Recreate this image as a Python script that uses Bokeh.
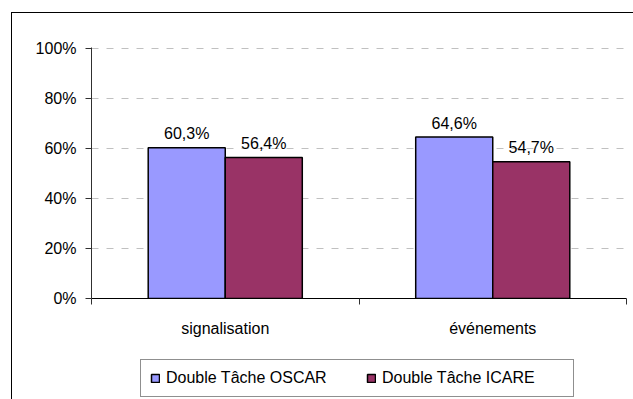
from bokeh.plotting import figure
from bokeh.layouts import column
from bokeh.models import (Range1d, FixedTicker, LinearAxis, NumeralTickFormatter,
                          ColumnDataSource, Legend, LegendItem, Grid)
from bokeh.core.properties import value
from bokeh.embed import file_html
from bokeh.resources import INLINE

categories = ["signalisation", "événements"]
series_names = ["Double Tâche OSCAR", "Double Tâche ICARE"]
oscar = [0.603, 0.646]
icare = [0.564, 0.547]
y_ticks = [0, 0.2, 0.4, 0.6, 0.8, 1.0]

FONT = "Liberation Sans"
BLUE = "#9999FF"
RED = "#993366"

bar_w = 0.288
centers = [i + 0.5 for i in range(len(categories))]

def fmt(v):
    return ("%.1f%%" % (v * 100)).replace(".", ",")

src_o = ColumnDataSource(dict(x=[c - bar_w / 2 for c in centers], top=oscar,
                              lab=[fmt(v) for v in oscar]))
src_i = ColumnDataSource(dict(x=[c + bar_w / 2 for c in centers], top=icare,
                              lab=[fmt(v) for v in icare]))

p = figure(width=621, height=330, output_backend="svg", toolbar_location=None,
           x_range=Range1d(0, len(categories)), y_range=Range1d(0, 1.004),
           x_axis_type=None, y_axis_type=None,
           min_border_left=79, min_border_right=7, min_border_top=34,
           min_border_bottom=45)
p.outline_line_color = None
p.background_fill_color = "white"
p.border_fill_color = "white"

yaxis = LinearAxis(ticker=FixedTicker(ticks=y_ticks, minor_ticks=[]),
                   formatter=NumeralTickFormatter(format="0%"))
yaxis.axis_line_color = "#303030"
yaxis.major_tick_out = 6
yaxis.major_tick_in = 0
yaxis.major_tick_line_color = "#303030"
yaxis.minor_tick_line_color = None
yaxis.major_label_standoff = 9
yaxis.major_label_text_font = FONT
yaxis.major_label_text_font_size = "16px"
yaxis.major_label_text_color = "black"
p.add_layout(yaxis, "left")

xaxis = LinearAxis(ticker=FixedTicker(ticks=centers,
                                      minor_ticks=list(range(len(categories) + 1))))
xaxis.major_label_overrides = {c: cat for c, cat in zip(centers, categories)}
xaxis.axis_line_color = "black"
xaxis.major_tick_line_color = None
xaxis.major_tick_out = 0
xaxis.major_tick_in = 0
xaxis.minor_tick_out = 6
xaxis.minor_tick_in = 0
xaxis.minor_tick_line_color = "#303030"
xaxis.major_label_standoff = 15
xaxis.major_label_text_font = FONT
xaxis.major_label_text_font_size = "16px"
xaxis.major_label_text_color = "black"
p.add_layout(xaxis, "below")

grid = Grid(dimension=1, ticker=FixedTicker(ticks=y_ticks[1:]))
grid.grid_line_color = "#c0c0c0"
grid.grid_line_dash = "7 8"
grid.grid_line_width = 1
p.add_layout(grid)

r_o = p.vbar(x="x", top="top", width=bar_w, bottom=0, source=src_o,
             fill_color=BLUE, line_color="black", line_width=1.5)
r_i = p.vbar(x="x", top="top", width=bar_w, bottom=0, source=src_i,
             fill_color=RED, line_color="black", line_width=1.5)

for src in (src_o, src_i):
    p.text(x="x", y="top", text="lab", source=src, text_align="center",
           text_baseline="alphabetic", y_offset=-14,
           text_font=value(FONT), text_font_size="16px", text_color="black")

# legend strip below the chart (its swatch renderers are zero-size, hidden under the legend box)
pl = figure(width=621, height=56, output_backend="svg", toolbar_location=None,
            x_range=Range1d(0, 1), y_range=Range1d(0, 1),
            x_axis_type=None, y_axis_type=None,
            min_border_left=0, min_border_right=0, min_border_top=0,
            min_border_bottom=0)
pl.outline_line_color = None
pl.background_fill_color = "white"
pl.border_fill_color = "white"
l_o = pl.vbar(x=[0.5], top=[0.5], bottom=[0.5], width=0.001,
              fill_color=BLUE, line_color="black", line_width=1.5)
l_i = pl.vbar(x=[0.5], top=[0.5], bottom=[0.5], width=0.001,
              fill_color=RED, line_color="black", line_width=1.5)

legend = Legend(items=[LegendItem(label=series_names[0], renderers=[l_o]),
                       LegendItem(label=series_names[1], renderers=[l_i])],
                orientation="horizontal", location=(49, 2))
legend.margin = 0
legend.padding = 9
legend.glyph_width = 10
legend.glyph_height = 10
legend.label_standoff = 6
legend.label_width = 182
legend.label_height = 16
legend.spacing = 18
legend.label_text_font = FONT
legend.label_text_font_size = "16px"
legend.label_text_color = "black"
legend.border_line_color = "#202020"
legend.border_line_width = 1
legend.background_fill_color = "white"
legend.background_fill_alpha = 1
pl.add_layout(legend, "center")

layout = column(p, pl, spacing=0)
layout.styles = {"border-left": "1px solid black", "border-top": "1px solid black",
                 "margin-left": "11px", "margin-top": "12px"}

open("out.html", "w").write(file_html(layout, INLINE))
